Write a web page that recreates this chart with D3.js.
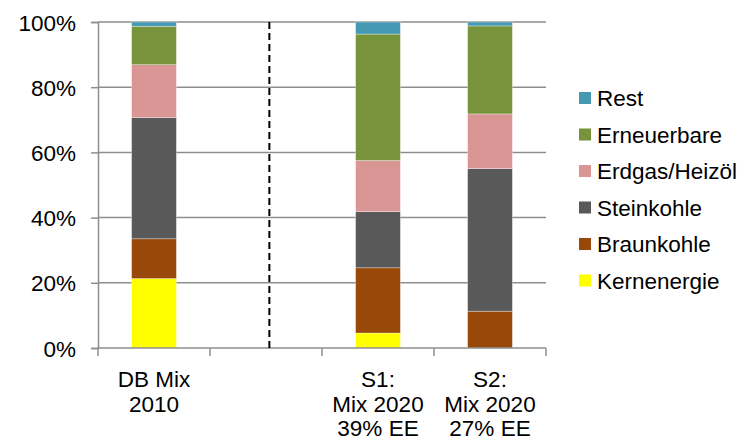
<!DOCTYPE html>
<html>
<head>
<meta charset="utf-8">
<script src="https://cdn.jsdelivr.net/npm/d3@7/dist/d3.min.js"></script>
<style>
  html, body { margin: 0; padding: 0; background: #fff; }
  svg text { font-family: "Liberation Sans", Arial, sans-serif; fill: #000; }
</style>
</head>
<body>
<svg id="chart" width="745" height="445"></svg>
<script>
// Slots on the x axis (the second slot is an empty spacer next to the divider)
const categories = ["DB Mix 2010", "", "S1: Mix 2020 39% EE", "S2: Mix 2020 27% EE"];
const categoryLines = [["DB Mix", "2010"], [], ["S1:", "Mix 2020", "39% EE"], ["S2:", "Mix 2020", "27% EE"]];

// Energy sources, stacked bottom to top
const sources = ["Kernenergie", "Braunkohle", "Steinkohle", "Erdgas/Heizöl", "Erneuerbare", "Rest"];
const colors = ["#FFFF00", "#984807", "#595959", "#D99694", "#77933C", "#4599B2"];

// Share of each source in percent, per scenario (null = empty slot)
const kernenergie  = [21.3, null,  4.6,  0.0];
const braunkohle   = [12.2, null, 20.0, 11.3];
const steinkohle   = [37.2, null, 17.2, 43.7];
const erdgasHeizoel= [16.2, null, 15.7, 16.8];
const erneuerbare  = [11.8, null, 38.8, 27.0];
const rest         = [ 1.3, null,  3.7,  1.2];

const yTicks = [0, 20, 40, 60, 80, 100];
const yTickLabels = ["0%", "20%", "40%", "60%", "80%", "100%"];

const seriesValues = [kernenergie, braunkohle, steinkohle, erdgasHeizoel, erneuerbare, rest];

const svg = d3.select("#chart");
const plot = { left: 98, right: 546, top: 22, bottom: 348 };

const x = d3.scaleBand().domain(d3.range(categories.length))
  .range([plot.left, plot.right]).paddingInner(0).paddingOuter(0);
const y = d3.scaleLinear().domain([0, 100]).range([plot.bottom, plot.top]);
const barW = x.bandwidth() * 0.4;

// Horizontal gridlines
svg.append("g").selectAll("line").data(yTicks.filter(t => t > 0)).join("line")
  .attr("x1", plot.left).attr("x2", plot.right)
  .attr("y1", d => y(d)).attr("y2", d => y(d))
  .attr("stroke", "#8e8e8e").attr("stroke-width", 1.5);

// Y axis
const yAxis = svg.append("g").attr("transform", `translate(${plot.left},0)`)
  .call(d3.axisLeft(y).tickValues(yTicks).tickSize(7).tickFormat((d, i) => yTickLabels[i]).tickPadding(15));
yAxis.select(".domain").attr("stroke", "#8e8e8e").attr("stroke-width", 1.5);
yAxis.selectAll(".tick line").attr("stroke", "#8e8e8e").attr("stroke-width", 1.5);
yAxis.selectAll(".tick text").attr("font-size", 22.5).attr("dy", "0.36em")
  .style("font-family", "'Liberation Sans', Arial, sans-serif").attr("fill", "#000");

// Stacked bars
const stackData = categories.map((c, i) => {
  const row = { idx: i };
  sources.forEach((s, j) => { row[s] = seriesValues[j][i] || 0; });
  return row;
});
const stacked = d3.stack().keys(sources)(stackData);

svg.append("g").selectAll("g").data(stacked).join("g")
  .attr("fill", (d, i) => colors[i])
  .selectAll("rect").data(d => d.filter(p => p[1] - p[0] > 0)).join("rect")
  .attr("x", d => x(d.data.idx) + (x.bandwidth() - barW) / 2)
  .attr("width", barW)
  .attr("y", d => y(d[1]))
  .attr("height", d => y(d[0]) - y(d[1]))
  .attr("stroke", "#ffffff").attr("stroke-opacity", 0.55).attr("stroke-width", 0.6);

// X axis with ticks between slots
const xAxisG = svg.append("g").attr("transform", `translate(0,${plot.bottom})`);
xAxisG.append("line").attr("x1", plot.left).attr("x2", plot.right)
  .attr("stroke", "#8e8e8e").attr("stroke-width", 1.5);
xAxisG.selectAll("line.tick").data(d3.range(categories.length + 1)).join("line")
  .attr("class", "tick")
  .attr("x1", d => plot.left + d * x.bandwidth()).attr("x2", d => plot.left + d * x.bandwidth())
  .attr("y1", 0).attr("y2", 8)
  .attr("stroke", "#8e8e8e").attr("stroke-width", 1.5);

// Category labels
svg.append("g").selectAll("text").data(categoryLines).join("text")
  .attr("x", (d, i) => x(i) + x.bandwidth() / 2)
  .attr("y", 387)
  .attr("text-anchor", "middle").attr("font-size", 22.5)
  .selectAll("tspan").data((d, i) => d.map(l => ({ l, i }))).join("tspan")
  .attr("x", d => x(d.i) + x.bandwidth() / 2)
  .attr("dy", (d, k) => k === 0 ? 0 : 24.5)
  .text(d => d.l);

// Dashed divider between the 2010 mix and the 2020 scenarios
const divX = x(1) + x.bandwidth() * 0.53;
svg.append("line")
  .attr("x1", divX).attr("x2", divX)
  .attr("y1", plot.top).attr("y2", plot.bottom + 2)
  .attr("stroke", "#000").attr("stroke-width", 2).attr("stroke-dasharray", "7,4");

// Legend, top entry is the top of the stack
const legendOrder = d3.range(sources.length).reverse();
const legend = svg.append("g").selectAll("g").data(legendOrder).join("g")
  .attr("transform", (d, k) => `translate(579,${98 + k * 36.5})`);
legend.append("rect").attr("x", 0).attr("y", -6).attr("width", 12).attr("height", 12)
  .attr("fill", d => colors[d]);
legend.append("text").attr("x", 18).attr("y", 8).attr("font-size", 22.5)
  .text(d => sources[d]);
</script>
</body>
</html>
